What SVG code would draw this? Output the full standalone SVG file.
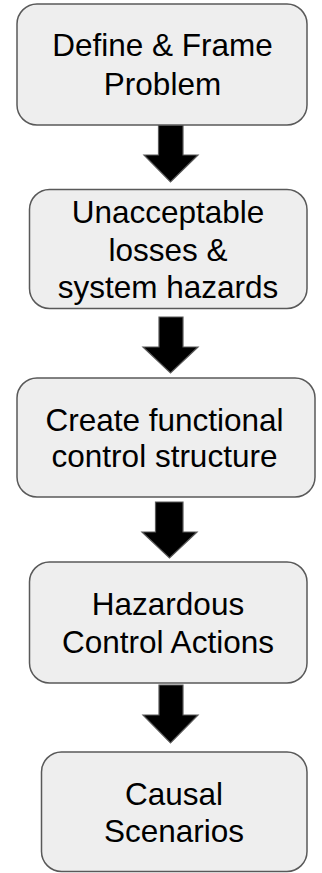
<svg xmlns="http://www.w3.org/2000/svg" width="322" height="873" viewBox="0 0 322 873">
<style>
.box{fill:#eeeeee;stroke:#595959;stroke-width:1.5}
.lbl{font-family:"Liberation Sans",Arial,sans-serif;font-size:31.5px;fill:#000;text-anchor:middle}
.arr{fill:#000;stroke:#595959;stroke-width:1.2;stroke-linejoin:miter}
</style>
<rect width="322" height="873" fill="#fff"/>
<g id="connectors">
<path class="arr" d="M158.5,125 H183 V155 H198 L170.5,182 L144,155 H158.5 Z"/>
<path class="arr" d="M159,317 H183 V347 H198 L170.5,373 L143,347 H159 Z"/>
<path class="arr" d="M155.5,502 H183 V532 H197 L169.5,558 L142,532 H155.5 Z"/>
<path class="arr" d="M159,685 H183 V715 H198 L170.5,743 L143,715 H159 Z"/>
</g>
<g id="n1">
<rect class="box" x="17" y="4" width="290" height="121" rx="20"/>
<text class="lbl" x="162.5" y="56">Define &amp; Frame</text>
<text class="lbl" x="162.5" y="95">Problem</text>
</g>
<g id="n2">
<rect class="box" x="29.5" y="189.5" width="277.5" height="119" rx="20"/>
<text class="lbl" x="168" y="223">Unacceptable</text>
<text class="lbl" x="168" y="261">losses &amp;</text>
<text class="lbl" x="168" y="298">system hazards</text>
</g>
<g id="n3">
<rect class="box" x="17" y="378" width="298" height="119" rx="20"/>
<text class="lbl" x="164.5" y="431">Create functional</text>
<text class="lbl" x="164.5" y="467">control structure</text>
</g>
<g id="n4">
<rect class="box" x="29.5" y="562" width="277.5" height="121" rx="20"/>
<text class="lbl" x="168" y="615">Hazardous</text>
<text class="lbl" x="168" y="653">Control Actions</text>
</g>
<g id="n5">
<rect class="box" x="41.5" y="752" width="265.5" height="119.5" rx="20"/>
<text class="lbl" x="174" y="805">Causal</text>
<text class="lbl" x="174" y="842">Scenarios</text>
</g>
</svg>
